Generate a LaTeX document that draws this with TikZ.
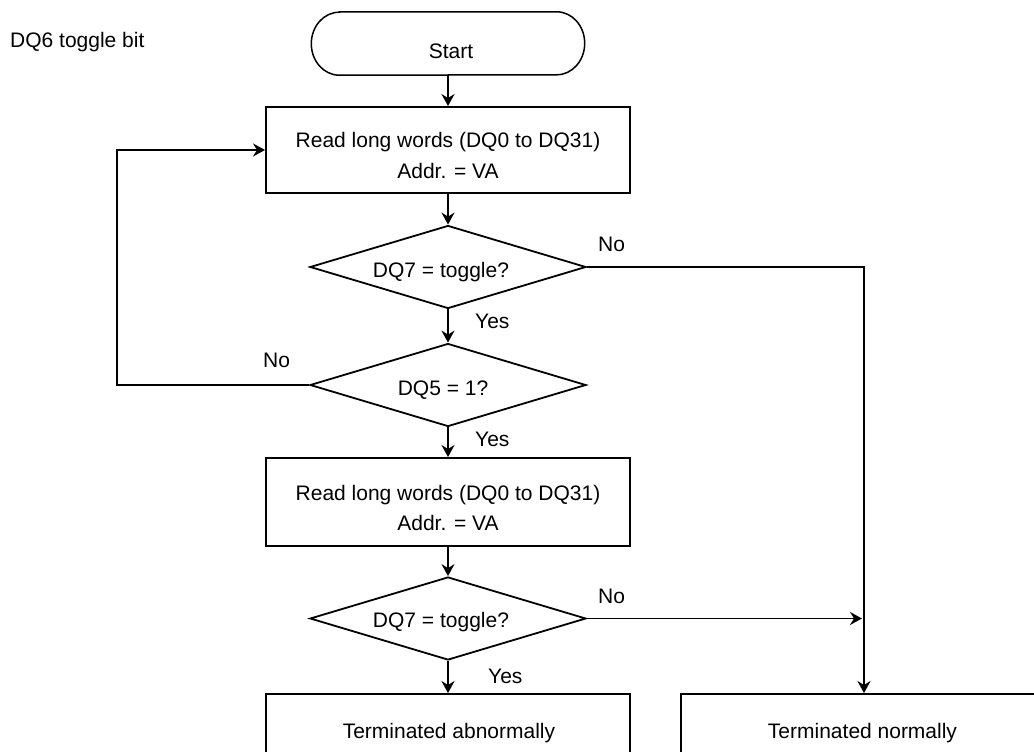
\documentclass[tikz,border=0pt]{standalone}
\usepackage{fontspec}
\setmainfont{Liberation Sans}
\usetikzlibrary{arrows.meta,shapes.geometric}
\begin{document}
\begin{tikzpicture}[x=1pt,y=-1pt,
  every node/.style={font=\fontsize{21}{25}\selectfont,inner sep=0pt},
  procbox/.style={draw,line width=1.9pt,minimum width=364pt},
  decision/.style={diamond,draw,line width=1.8pt,minimum width=276pt,minimum height=83pt,aspect=3.3},
  flow/.style={line width=1.9pt,-{Stealth[length=12pt,width=13pt,inset=4pt]}},
  wire/.style={line width=1.9pt}
]
\useasboundingbox (0,0) rectangle (1034,752);
\clip (0,0) rectangle (1034,752);

% heading
\node[anchor=base west] (title) at (10,48) {DQ6 toggle bit};

% start terminal with elliptic ends
\node[minimum width=273pt,minimum height=63pt] (start) at (448,43.5) {};
\draw[line width=1.5pt]
  ([xshift=28pt]start.north west) -- ([xshift=-28pt]start.north east)
  arc[start angle=90,end angle=-90,x radius=28pt,y radius=31.5pt]
  -- ([xshift=28pt]start.south west)
  arc[start angle=270,end angle=90,x radius=28pt,y radius=31.5pt] -- cycle;
\node[anchor=base] (starttxt) at (451,59) {Start};

% first read
\node[procbox,minimum height=86pt] (read1) at (448,150) {};
\node[anchor=base] (read1a) at (448,147) {Read long words (DQ0 to DQ31)};
\node[anchor=base] (read1b) at (448,178) {Addr. = VA};

% first DQ7 test
\node[decision] (tog1) at (448,267) {};
\node[anchor=base] (tog1txt) at (441,277) {DQ7 = toggle?};

% DQ5 test
\node[decision] (dq5) at (448,385) {};
\node[anchor=base] (dq5txt) at (443,395) {DQ5 = 1?};

% second read
\node[procbox,minimum height=88pt] (read2) at (448,502) {};
\node[anchor=base] (read2a) at (448,500) {Read long words (DQ0 to DQ31)};
\node[anchor=base] (read2b) at (448,530) {Addr. = VA};

% second DQ7 test
\node[decision] (tog2) at (448,618.5) {};
\node[anchor=base] (tog2txt) at (441,627) {DQ7 = toggle?};

% results
\node[procbox,minimum height=76pt] (abn) at (448,732) {};
\node[anchor=base] (abntxt) at (449,738) {Terminated abnormally};
\node[procbox,minimum height=76pt] (norm) at (863,732) {};
\node[anchor=base] (normtxt) at (862.5,738) {Terminated normally};

% routing points
\coordinate (turn) at (864,267);
\coordinate (loop) at (117,385);

% main flow
\draw[flow] (start) -- (read1);
\draw[flow] (read1) -- (tog1);
\draw[flow] (tog1) -- (dq5);
\draw[flow] (dq5) -- (read2);
\draw[flow] (read2) -- (tog2);
\draw[flow] (tog2) -- (abn);

% branches
\draw[flow] (tog1.east) -- (turn) -- (turn |- norm.north);
\draw[flow,shorten >=2pt] (tog2.east) -- (turn |- tog2.east);
\draw[flow] (dq5.west) -- (loop) |- (read1.west);

% branch labels
\node[anchor=base west] (no1) at (598,251) {No};
\node[anchor=base west] (yes1) at (475,328) {Yes};
\node[anchor=base west] (no2) at (263,367) {No};
\node[anchor=base west] (yes2) at (475,446) {Yes};
\node[anchor=base west] (no3) at (598,603) {No};
\node[anchor=base west] (yes3) at (488,683) {Yes};
\end{tikzpicture}
\end{document}
